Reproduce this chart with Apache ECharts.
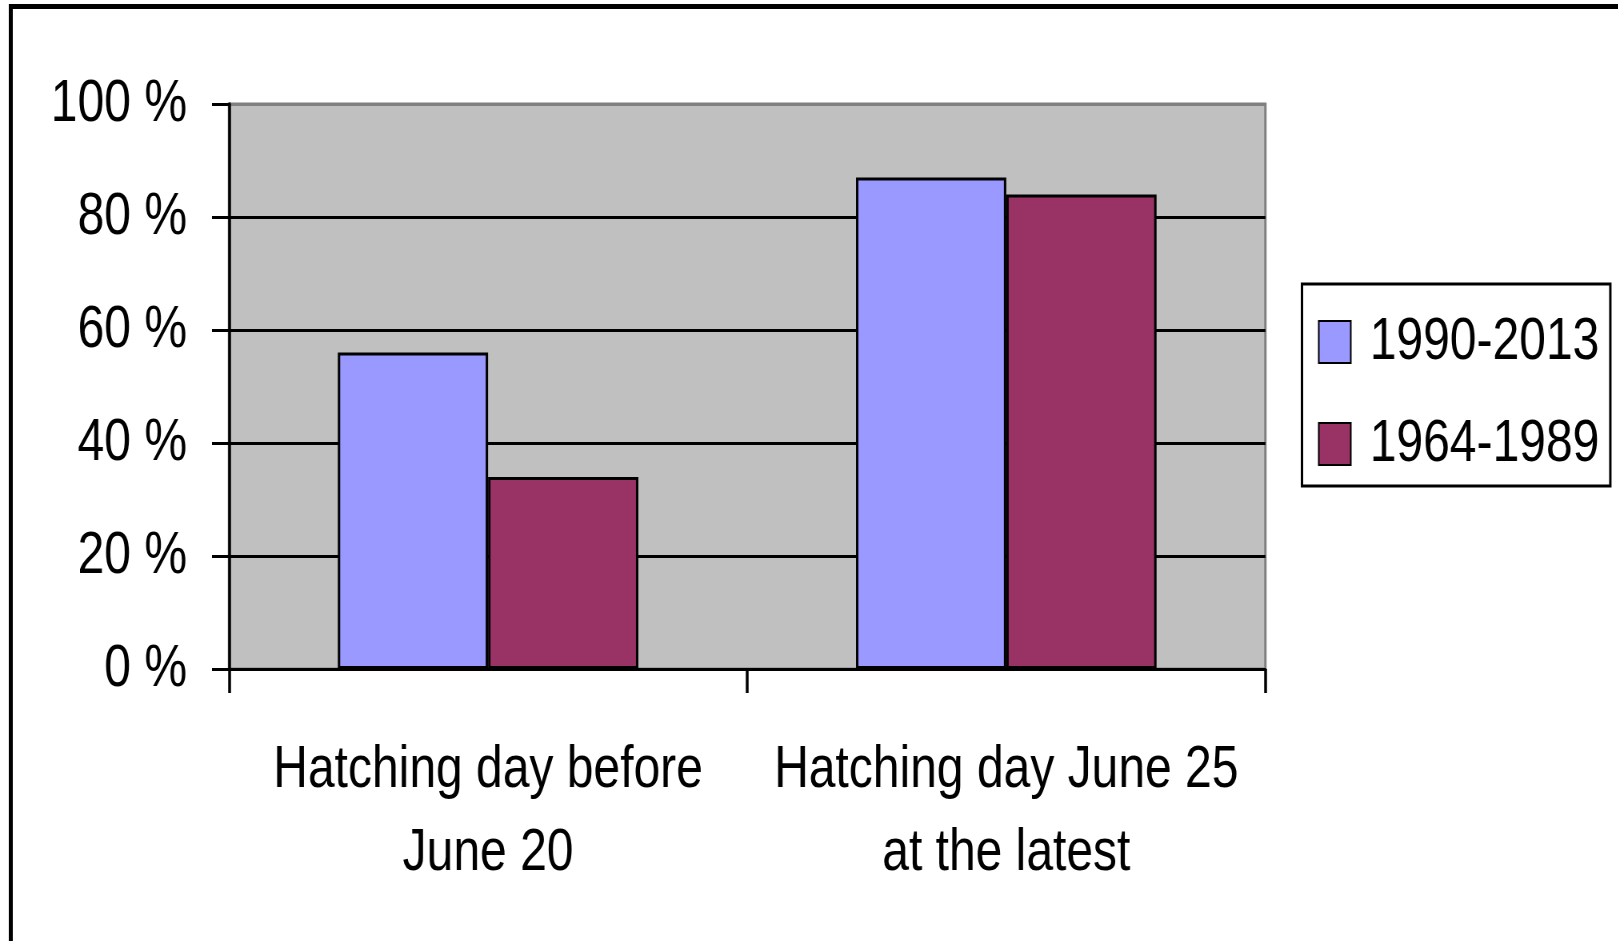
<!DOCTYPE html>
<html>
<head>
<meta charset="utf-8">
<title>Hatching day</title>
<script src="https://cdn.jsdelivr.net/npm/echarts@6/dist/echarts.min.js"></script>
<style>
  html, body { margin: 0; padding: 0; background: #ffffff; overflow: hidden; }
  /* the chart is laid out wider and squeezed horizontally so the lettering reads condensed */
  #chart { height: 941px; transform-origin: 0 0; }
</style>
</head>
<body>
<div id="chart"></div>
<script>
// Share of broods per hatching-day class, two periods
var categories = ['Hatching day before\nJune 20', 'Hatching day June 25\nat the latest'];
var seriesNames = ['1990-2013', '1964-1989'];
var values1990_2013 = [56, 87];
var values1964_1989 = [34, 84];
var yTicks = [0, 20, 40, 60, 80, 100];

var FONT = "'Liberation Sans', Arial, sans-serif";
var FONT_SIZE = 60;

// horizontal condensing factor and page size
var SX = 0.8;
var PAGE_W = 1618;
var W = PAGE_W / SX;
function hx(px) { return px / SX; }   // page x-distance -> chart x-distance

var el = document.getElementById('chart');
el.style.width = W + 'px';
el.style.transform = 'scaleX(' + SX + ')';

var chart = echarts.init(el, null, { renderer: 'canvas' });

chart.setOption({
  backgroundColor: '#ffffff',
  animation: false,
  textStyle: { fontFamily: FONT, color: '#000000' },
  graphic: [{
    type: 'rect',
    shape: { x: hx(10.8), y: 6.5, width: 3000, height: 2000 },
    style: { fill: 'none', stroke: '#000000', lineWidth: 5 },
    silent: true,
    z: 100
  }],
  grid: {
    left: hx(229), right: W - hx(1265), top: 104, bottom: 272,
    show: true,
    backgroundColor: '#c0c0c0',
    borderColor: '#808080',
    borderWidth: 3
  },
  legend: {
    orient: 'vertical',
    left: hx(1302), top: 284,
    padding: [28, hx(11), 12, hx(16)],
    itemWidth: hx(32), itemHeight: 42,
    itemGap: 42,
    icon: 'rect',
    borderColor: '#000000', borderWidth: 3,
    backgroundColor: '#ffffff',
    textStyle: { fontFamily: FONT, fontSize: FONT_SIZE, color: '#000000', padding: [0, 0, 0, hx(15)] },
    data: seriesNames
  },
  xAxis: {
    type: 'category',
    data: categories,
    axisLine: { lineStyle: { color: '#000000', width: 3 } },
    axisTick: { show: true, alignWithLabel: false, length: 24, lineStyle: { color: '#000000', width: 3.5 } },
    axisLabel: { fontFamily: FONT, fontSize: FONT_SIZE, lineHeight: 83, color: '#000000', margin: 60, interval: 0 },
    splitLine: { show: false }
  },
  yAxis: {
    type: 'value',
    min: yTicks[0], max: yTicks[yTicks.length - 1], interval: 20,
    axisLine: { show: true, lineStyle: { color: '#000000', width: 3.5 } },
    axisTick: { show: true, length: hx(17), lineStyle: { color: '#000000', width: 3 } },
    axisLabel: { fontFamily: FONT, fontSize: FONT_SIZE, color: '#000000', margin: hx(42), padding: [5, 0, 0, 0], formatter: '{value} %' },
    splitLine: { show: true, lineStyle: { color: ['#000000', '#000000', '#000000', '#000000', '#000000', '#808080'], width: 3 } }
  },
  series: [
    {
      name: seriesNames[0],
      type: 'bar',
      data: values1990_2013,
      barGap: '0%',
      barCategoryGap: '42%',
      itemStyle: { color: '#9999ff', borderColor: '#000000', borderWidth: 3 }
    },
    {
      name: seriesNames[1],
      type: 'bar',
      data: values1964_1989,
      barGap: '0%',
      barCategoryGap: '42%',
      itemStyle: { color: '#993366', borderColor: '#000000', borderWidth: 3 }
    }
  ]
});
</script>
</body>
</html>
